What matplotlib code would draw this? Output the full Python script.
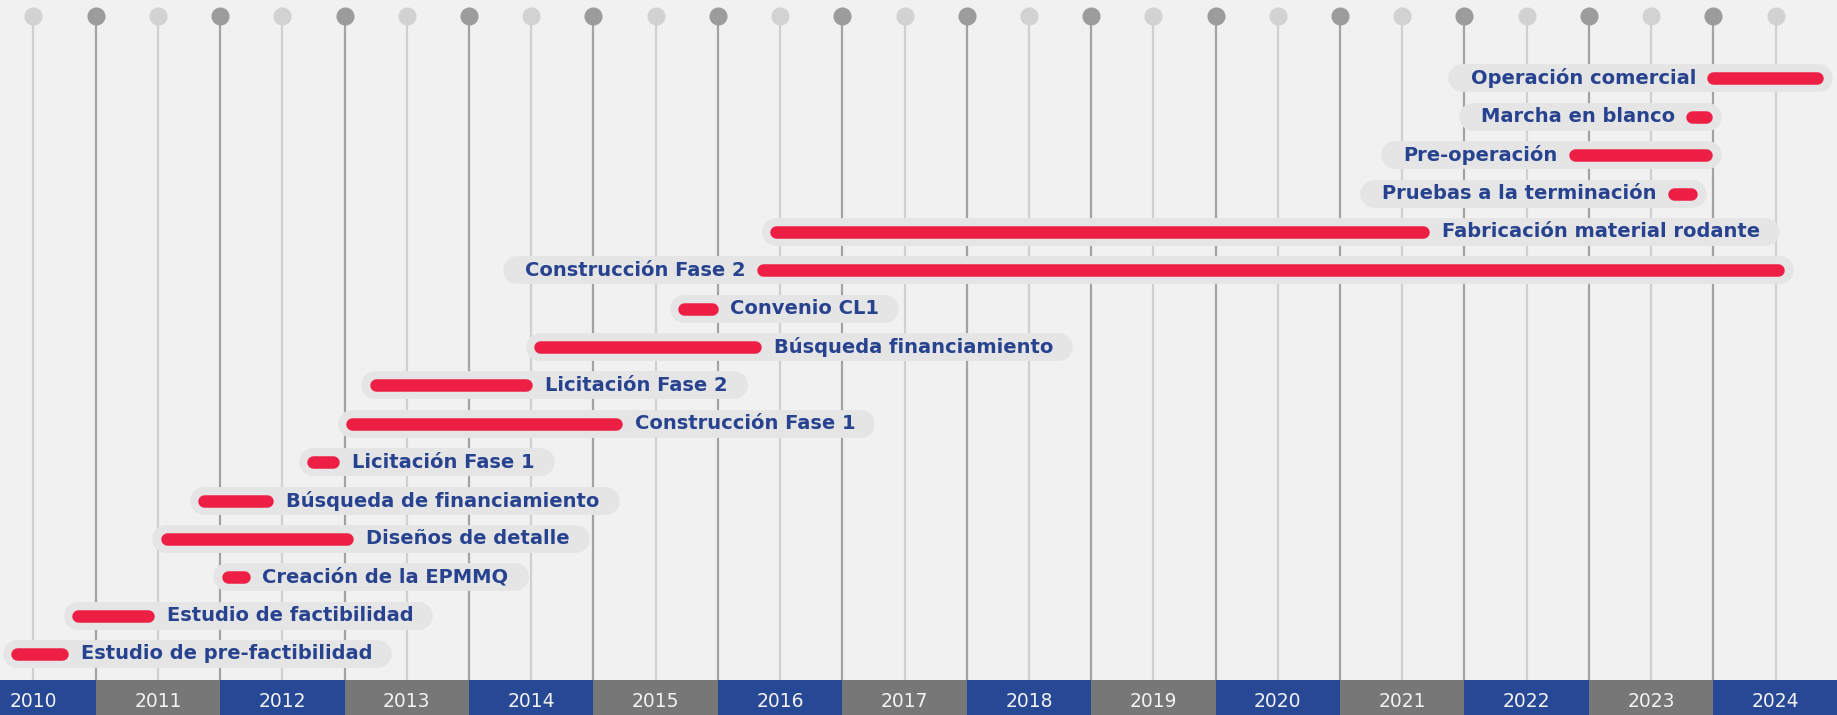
import numpy as np
import matplotlib.pyplot as plt

plt.rcParams['font.family'] = ['DejaVu Sans']

# project phases, bottom to top
tasks = ["Estudio de pre-factibilidad", "Estudio de factibilidad", "Creación de la EPMMQ",
         "Diseños de detalle", "Búsqueda de financiamiento", "Licitación Fase 1",
         "Construcción Fase 1", "Licitación Fase 2", "Búsqueda financiamiento",
         "Convenio CL1", "Construcción Fase 2", "Fabricación material rodante",
         "Pruebas a la terminación", "Pre-operación", "Marcha en blanco", "Operación comercial"]
starts = [2010.32, 2010.81, 2012.01, 2011.52, 2011.82, 2012.70, 2013.01, 2013.20,
          2014.52, 2015.68, 2016.31, 2016.42, 2023.63, 2022.84, 2023.78, 2023.95]
ends = [2010.78, 2011.47, 2012.24, 2013.07, 2012.43, 2012.96, 2015.23, 2014.51,
        2016.35, 2016.00, 2024.57, 2021.72, 2023.87, 2023.99, 2023.99, 2024.88]
label_side = ["right"] * 10 + ["left", "right", "left", "left", "left", "left"]
years = list(range(2010, 2025))

BLUE = '#274894'
GRAY = '#777777'
RED = '#ee1f45'
TXT = '#27428f'
BG = '#f1f1f1'
PILL = '#e5e5e5'

fig = plt.figure(figsize=(18.37, 7.15), dpi=100)
fig.patch.set_facecolor(BG)
ax = fig.add_axes([0, 0, 1, 1])
ax.set_facecolor(BG)
ax.set_xlim(2010.231, 2024.994)
ax.set_ylim(-1.59, 17.045)
ax.axis('off')

box_top = -0.678
top = 16.63

# year strip
for i, yr in enumerate(years):
    ax.fill_between([yr, yr + 1], -1.59, box_top, color=BLUE if i % 2 == 0 else GRAY,
                    lw=0, zorder=5)
    ax.text(yr + 0.5, -1.25, str(yr), ha='center', va='center', fontsize=13.5,
            color='#f2f2f2', zorder=6)

# vertical guide lines with dots on top
for yr in years:
    ax.plot([yr, yr], [box_top, top], color='#a3a3a3', lw=1.6, zorder=1)
    ax.scatter([yr], [top], s=170, color='#9c9c9c', zorder=1, linewidths=0)
    ax.plot([yr + 0.5, yr + 0.5], [box_top, top], color='#d0d0d0', lw=1.6, zorder=1)
    ax.scatter([yr + 0.5], [top], s=170, color='#d2d2d2', zorder=1, linewidths=0)

# labels first, so their extents can size the pills
texts = []
for i, (name, s, e, side) in enumerate(zip(tasks, starts, ends, label_side)):
    if side == "right":
        t = ax.annotate(name, (e, i), xytext=(9, 0), textcoords='offset points',
                        ha='left', va='center', fontsize=14, fontweight='bold',
                        color=TXT, zorder=4)
    else:
        t = ax.annotate(name, (s, i), xytext=(-8, 0), textcoords='offset points',
                        ha='right', va='center', fontsize=14, fontweight='bold',
                        color=TXT, zorder=4)
    texts.append(t)

fig.canvas.draw()
r = fig.canvas.get_renderer()
inv = ax.transData.inverted()
px = fig.dpi / 72.0

pill_lw = 20
bar_lw = 9
pill_cap = pill_lw * px / 2
bar_cap = bar_lw * px / 2

for i, (t, s, e, side) in enumerate(zip(texts, starts, ends, label_side)):
    bb = t.get_window_extent(r)
    xs = ax.transData.transform([(s, i), (e, i)])[:, 0]
    if side == "right":
        left = xs[0] - 8
        right = bb.x1 + 20
    else:
        left = bb.x0 - 22
        right = xs[1] + 10
    p0 = inv.transform((left + pill_cap, 0))[0]
    p1 = inv.transform((right - pill_cap, 0))[0]
    ax.plot([p0, p1], [i, i], color=PILL, lw=pill_lw, solid_capstyle='round', zorder=2)
    b0 = inv.transform((xs[0] + bar_cap, 0))[0]
    b1 = inv.transform((xs[1] - bar_cap, 0))[0]
    ax.plot([b0, b1], [i, i], color=RED, lw=bar_lw, solid_capstyle='round', zorder=3)

fig.savefig('out.png', dpi=100, facecolor=fig.get_facecolor())
